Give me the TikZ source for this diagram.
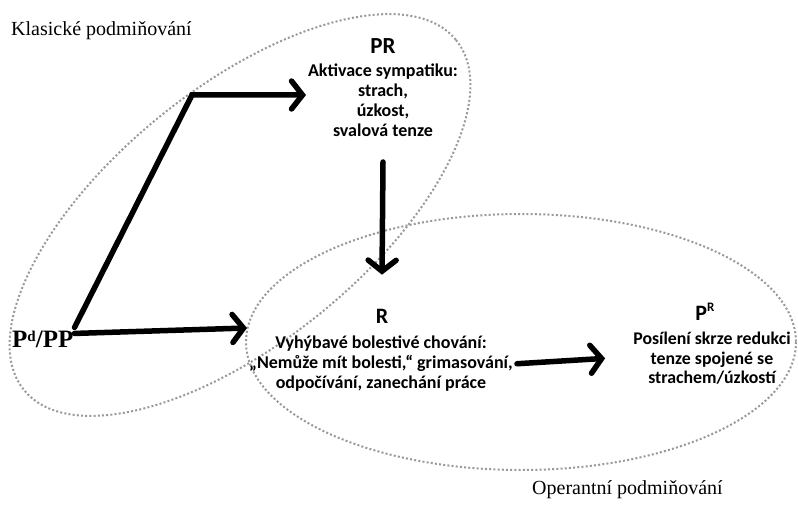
\documentclass[tikz,border=0pt]{standalone}
\usepackage{fontspec}
\setmainfont{Liberation Serif}
\newfontfamily\calib{Carlito}
\usetikzlibrary{arrows.meta}
\tikzset{
  region/.style={draw=black!40, line width=2pt, dash pattern=on 2pt off 2.2pt},
  bigarrow/.style={line width=5.5pt, line cap=round, line join=miter,
    -{Straight Barb[length=11pt,width=28pt,line cap=round]}},
  head/.style={font=\calib\bfseries\fontsize{23}{28}\selectfont, inner sep=0pt},
  body/.style={font=\calib\bfseries\fontsize{18}{20}\selectfont, align=center, inner sep=0pt},
  caption/.style={font=\fontsize{20}{22}\selectfont, inner sep=0pt, anchor=west}
}
\begin{document}
\begin{tikzpicture}[x=1pt,y=-1pt]
\useasboundingbox (0,0) rectangle (798,505);
% regions
\draw[region, rotate around={39:(240,215)}] (240,215) ellipse [x radius=278, y radius=127];
\draw[region] (521,342) ellipse [x radius=275, y radius=128];
% captions
\node[caption] (kl) at (11,31) {Klasické podmiňování};
\node[caption] (op) at (532,490) {Operantní podmiňování};
% stimulus
\node[font=\bfseries\fontsize{25}{28}\selectfont, inner sep=0pt, anchor=west] (pd) at (12,339) {P\raisebox{6pt}{\fontsize{15}{15}\selectfont d}/PP};
% PR
\node[head] (prh) at (383,46) {PR};
\node[body, anchor=north] (pr) at (383,64) {Aktivace sympatiku:\\strach,\\úzkost,\\svalová tenze};
% R
\node[head, font=\calib\bfseries\fontsize{22}{24}\selectfont] (rh) at (382,316) {R};
\node[body, font=\calib\bfseries\fontsize{18}{19.8}\selectfont, anchor=north] (r) at (381,336) {Vyhýbavé bolestivé chování:\\„Nemůže mít bolesti,“ grimasování,\\odpočívání, zanechání práce};
% P^R
\node[head, font=\calib\bfseries\fontsize{22}{24}\selectfont] (ph) at (705,312) {P\raisebox{9pt}{\fontsize{13}{13}\selectfont R}};
\node[body, font=\calib\bfseries\fontsize{17.8}{19.5}\selectfont, anchor=north] (p) at (712,332) {Posílení skrze redukci\\tenze spojené se\\strachem/úzkostí};
% connectors
\coordinate (c1) at (192,95);
\draw[bigarrow] (pd.north east) ++(1,-3) -- (c1) -- (306,95);
\draw[bigarrow] (pd.north east) ++(1,3) -- (247,328);
\draw[bigarrow] (383,162) -- ([yshift=34pt]rh.north);
\draw[bigarrow] (r.east) ++(4,0) -- ([xshift=-28pt]p.west);
\end{tikzpicture}
\end{document}
